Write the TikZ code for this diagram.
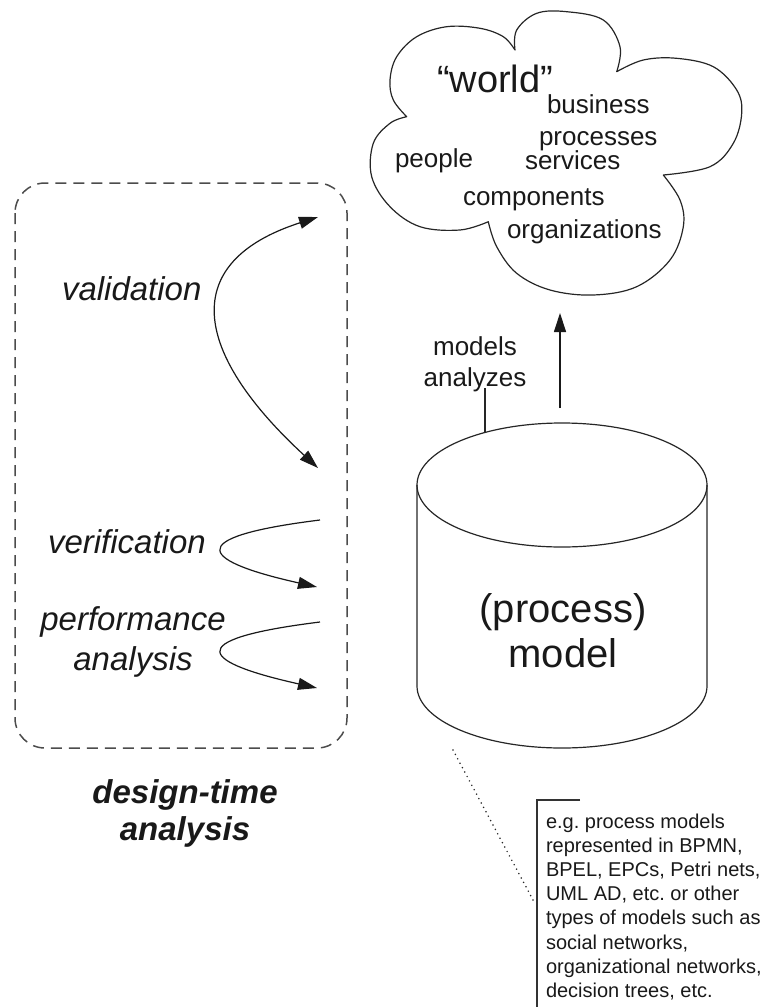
\documentclass[tikz,border=0pt]{standalone}
\usepackage{fontspec}
\setmainfont{Liberation Sans}
\usetikzlibrary{arrows.meta}
\frenchspacing
\begin{document}
\begin{tikzpicture}[x=1pt,y=-1pt,
  every node/.style={inner sep=0pt, outer sep=0pt, text=black!90},
  ital/.style={font=\fontsize{33}{37}\selectfont\itshape, anchor=base},
  bital/.style={font=\fontsize{33}{37}\selectfont\bfseries\itshape, anchor=base},
  cloudtxt/.style={font=\fontsize{26}{30}\selectfont, anchor=base west},
  midtxt/.style={font=\fontsize{26}{30}\selectfont, anchor=base},
  bigtxt/.style={font=\fontsize{40}{45}\selectfont, anchor=base},
  notetxt/.style={font=\fontsize{20}{24}\selectfont, anchor=base west},
  outline/.style={draw=black!85, line width=1.2pt},
  dbox/.style={draw=black!70, line width=1.5pt, dash pattern=on 11pt off 7pt, rounded corners=30pt},
  arr/.style={draw=black!90, line width=1.2pt, -{Triangle[length=19pt,width=12pt]}},
  dblarr/.style={draw=black!90, line width=1.2pt, {Triangle[length=19pt,width=12pt]}-{Triangle[length=19pt,width=12pt]}}
]
\useasboundingbox (0,0) rectangle (764,1007);

% ---------- cloud ----------
\draw[outline, line join=round]
  plot[smooth, tension=0.6] coordinates {(406.7,116.7) (393.3,100) (390,80) (396.7,56.7) (416.7,36.7) (446.7,26.7) (480,28.3) (503.3,36.7) (515,50)}
  -- plot[smooth, tension=0.6] coordinates {(515,50) (516.7,30) (536.7,13.3) (566.7,11.7) (603.3,20) (620,46.7) (616.7,71.7)}
  -- plot[smooth, tension=0.6] coordinates {(616.7,71.7) (643.3,60) (676.7,58.3) (713.3,66.7) (736.7,90) (741.7,113.3) (733.3,143.3) (710,166.7) (663.3,175)}
  -- plot[smooth, tension=0.6] coordinates {(663.3,175) (680,200) (683.3,226.7) (670,260) (636.7,286.7) (593.3,295) (550,290) (516.7,273.3) (496.7,246.7) (488.3,221.7)}
  -- plot[smooth, tension=0.6] coordinates {(488.3,221.7) (460,230) (420,226.7) (390,206.7) (371.7,176.7) (373.3,143.3) (390,123.3) (406.7,116.7)}
  -- cycle;

\node[font=\fontsize{38}{42}\selectfont, anchor=base west] (world) at (437,92) {“world”};
\node[cloudtxt] (business) at (547,113) {business};
\node[cloudtxt] (processes) at (539,145) {processes};
\node[cloudtxt] (people) at (395,167) {people};
\node[cloudtxt] (services) at (525,169) {services};
\node[cloudtxt] (components) at (463,205) {components};
\node[cloudtxt] (organizations) at (507,238) {organizations};

% ---------- design-time analysis box ----------
\draw[dbox] (15,183) rectangle (347,748);

\node[ital, anchor=base west] (validation) at (62,300) {validation};
\node[ital, anchor=base west] (verification) at (48,553) {verification};
\node[ital] (performance) at (133,630) {performance};
\node[ital] (perfanalysis) at (133,670) {analysis};

\coordinate (va) at (318,217);
\coordinate (vb) at (318,468);
\draw[dblarr] (va) .. controls (178,262) and (192,352) .. (vb);

\coordinate (vea) at (320,520);
\coordinate (veb) at (317,587);
\draw[arr] (vea) .. controls (175,538) and (205,562) .. (veb);

\coordinate (pea) at (320,622);
\coordinate (peb) at (317,688);
\draw[arr] (pea) .. controls (175,640) and (205,663) .. (peb);

\node[bital] (designtime) at (185,803) {design-time};
\node[bital] (dtanalysis) at (185,840) {analysis};

% ---------- cylinder ----------
\draw[outline] (562,485) ellipse [x radius=145pt, y radius=62pt];
\draw[outline] (417,485) -- (417,686) arc[start angle=180, end angle=360, x radius=145pt, y radius=62pt] -- (707,485);

\node[bigtxt] (process) at (563,622) {(process)};
\node[bigtxt] (model) at (563,667) {model};

\node[midtxt] (models) at (475,355) {models};
\node[midtxt] (analyzes) at (475,386) {analyzes};
\coordinate (calla) at (485,388);
\coordinate (callb) at (485,432.5);
\draw[draw=black!85, line width=1.2pt] (calla) -- (callb);

\coordinate (cylup) at (560,408);
\coordinate (cloudlow) at (560,313);
\draw[arr] (cylup) -- (cloudlow);

% ---------- annotation ----------
\coordinate (dota) at (453,750);
\coordinate (dotb) at (533,900);
\draw[draw=black!85, line width=1.7pt, line cap=round, dash pattern=on 0pt off 5pt] (dota) -- (dotb);

\coordinate (bra) at (580,800);
\coordinate (brb) at (537,800);
\coordinate (brc) at (537,1007);
\draw[draw=black!80, line width=1.5pt] (bra) -- (brb) -- (brc);

\foreach \t [count=\i from 0] in {e.g. process models, {represented in BPMN,}, {BPEL, EPCs, Petri nets,}, {UML AD, etc. or other}, types of models such as, {social networks,}, {organizational networks,}, {decision trees, etc.}} {
  \node[notetxt] (note\i) at (546,{828+24.2*\i}) {\t};
}
\end{tikzpicture}
\end{document}
